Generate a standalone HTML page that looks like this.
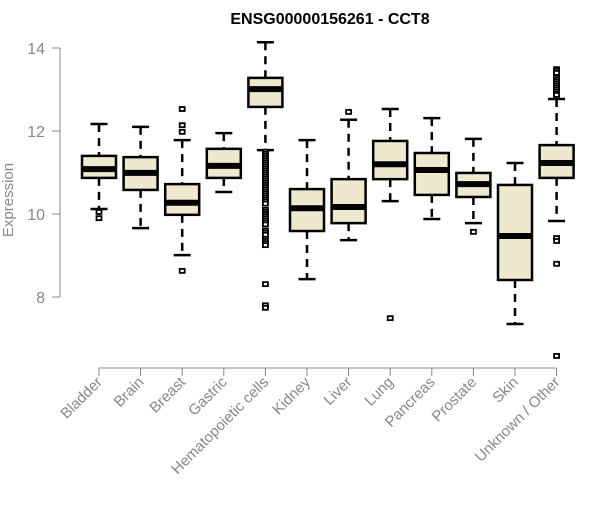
<!DOCTYPE html>
<html><head><meta charset="utf-8"><style>
body{margin:0;background:#fff}
svg text{font-family:"Liberation Sans",Arial,sans-serif}
</style></head><body>
<svg id="chart" width="600" height="500" xmlns="http://www.w3.org/2000/svg">
<text x="330" y="24" text-anchor="middle" font-weight="bold" font-size="16">ENSG00000156261 - CCT8</text>
<text transform="translate(13,200) rotate(-90)" text-anchor="middle" font-size="15" fill="#888">Expression</text>
<g id="yaxis"></g>
<g id="xaxis"></g>
<g id="boxes"></g>
</svg>
<script>
const categories=["Bladder","Brain","Breast","Gastric","Hematopoietic cells","Kidney","Liver","Lung","Pancreas","Prostate","Skin","Unknown / Other"];
const whiskerLow=[10.12,9.66,9.01,10.53,11.54,8.43,9.37,10.31,9.88,9.78,7.35,9.83];
const q1=[10.87,10.58,9.98,10.87,12.58,9.59,9.78,10.84,10.46,10.41,8.41,10.87];
const medians=[11.08,10.99,10.27,11.16,13.01,10.14,10.17,11.2,11.06,10.72,9.47,11.23];
const q3=[11.40,11.37,10.72,11.57,13.28,10.6,10.84,11.76,11.47,10.99,10.70,11.66];
const whiskerHigh=[12.17,12.10,11.78,11.95,14.14,11.78,12.27,12.53,12.31,11.81,11.23,12.77];
const outliers=[[10.05,9.9],[],[12.53,12.14,11.98,8.63],[],
[11.5,11.45,11.4,11.35,11.3,11.25,11.2,11.15,11.1,11.05,11.0,10.95,10.9,10.85,10.8,10.75,10.7,10.65,10.6,10.55,10.5,10.45,10.4,10.35,10.3,10.25,10.1,10.05,10.0,9.95,9.9,9.85,9.8,9.75,9.6,9.55,9.5,9.4,9.35,9.3,9.25,8.31,7.8,7.74],
[],[12.46],[7.49],[],[9.57],[],
[13.49,13.45,13.4,13.3,13.25,13.2,13.15,13.1,13.05,13.0,12.95,12.9,12.87,9.42,9.35,8.8,6.58]];
const yTicks=[8,10,12,14];
const NS="http://www.w3.org/2000/svg";
const y=v=>48+(14-v)*41.5;
const x=i=>99+i*41.6;
function mk(tag,attrs,parent){const e=document.createElementNS(NS,tag);for(const k in attrs)e.setAttribute(k,attrs[k]);parent.appendChild(e);return e;}
const ya=document.getElementById('yaxis');
mk('line',{x1:60,x2:60,y1:y(14),y2:y(8),stroke:'#888'},ya);
yTicks.forEach(t=>{
 const l=mk('line',{x1:52,x2:60,y1:y(t),y2:y(t),stroke:'#888'},ya);
 
 
 const tx=mk('text',{x:45,y:y(t)+6,'text-anchor':'end','font-size':16,fill:'#888'},ya);
 
 
 tx.textContent=t;
});
const xa=document.getElementById('xaxis');
mk('line',{x1:x(0),x2:x(categories.length-1),y1:368,y2:368,stroke:'#888'},xa);
const bx=document.getElementById('boxes');
categories.forEach((c,i)=>{
 const cx=x(i);
 mk('line',{x1:cx,x2:cx,y1:368,y2:376,stroke:'#888'},xa);
 const t=mk('text',{transform:`translate(${cx+4},${383}) rotate(-45)`,'text-anchor':'end','font-size':15,fill:'#888'},xa);
 
 
 t.textContent=c;
 const g=mk('g',{},bx);
 
 
 const hw=17, cap=8.5;
 mk('line',{x1:cx,x2:cx,y1:y(whiskerHigh[i]),y2:y(q3[i]),stroke:'#000','stroke-width':2.5,'stroke-dasharray':'8,6'},g);
 mk('line',{x1:cx,x2:cx,y1:y(q1[i]),y2:y(whiskerLow[i]),stroke:'#000','stroke-width':2.5,'stroke-dasharray':'8,6'},g);
 mk('line',{x1:cx-cap,x2:cx+cap,y1:y(whiskerHigh[i]),y2:y(whiskerHigh[i]),stroke:'#000','stroke-width':2.5},g);
 mk('line',{x1:cx-cap,x2:cx+cap,y1:y(whiskerLow[i]),y2:y(whiskerLow[i]),stroke:'#000','stroke-width':2.5},g);
 mk('rect',{x:cx-hw,y:y(q3[i]),width:2*hw,height:y(q1[i])-y(q3[i]),fill:'#EEE8CF',stroke:'#000','stroke-width':2.5},g);
 mk('line',{x1:cx-hw,x2:cx+hw,y1:y(medians[i]),y2:y(medians[i]),stroke:'#000','stroke-width':6},g);
 outliers[i].forEach(o=>{
  const r=mk('rect',{x:cx-2.5,y:y(o)-2,width:5,height:4,fill:'#fff',stroke:'#000','stroke-width':1.8},g);
  
  
 });
});
</script>
</body></html>
